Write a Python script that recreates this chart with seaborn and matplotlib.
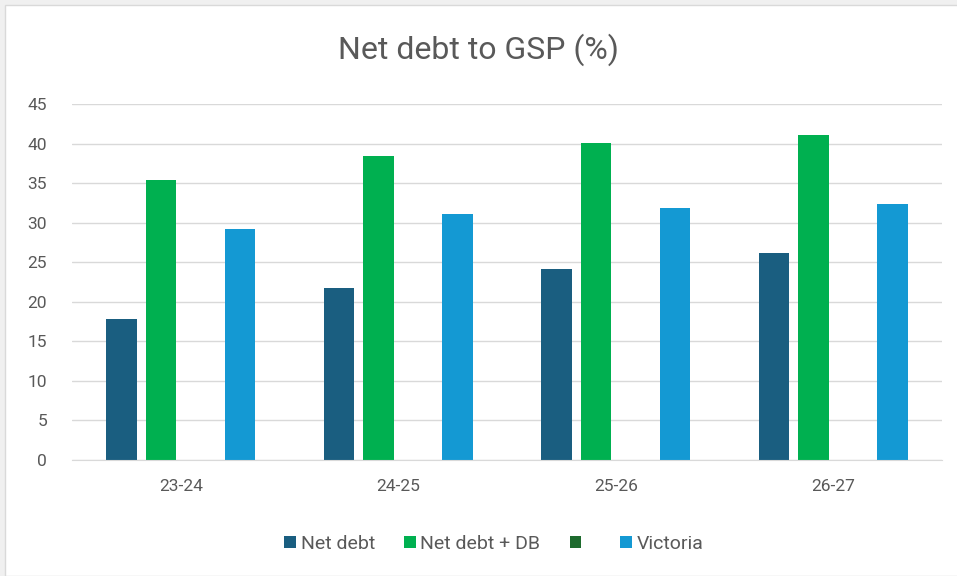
import numpy as np
import pandas as pd
import seaborn as sns
import matplotlib.pyplot as plt
from matplotlib.patches import Rectangle

# values
years = ["23-24", "24-25", "25-26", "26-27"]
net_debt = [17.8, 21.7, 24.1, 26.2]
net_debt_db = [35.4, 38.4, 40.1, 41.1]
blank = [np.nan, np.nan, np.nan, np.nan]   # series in legend with no bars
victoria = [29.2, 31.1, 31.9, 32.3]

series = ["Net debt", "Net debt + DB", " ", "Victoria"]
colours = {"Net debt": "#1a5e80", "Net debt + DB": "#00b050",
           " ": "#1e6b2e", "Victoria": "#1499d3"}

df = pd.DataFrame({
    "year": years * 4,
    "series": np.repeat(series, 4),
    "value": net_debt + net_debt_db + blank + victoria,
})

sns.set_style("white")
plt.rcParams["font.family"] = ["Roboto", "DejaVu Sans"]
grey = "#595959"

f = plt.figure(figsize=(9.57, 5.76), dpi=100, facecolor="#f0f0f0")
f.patches.append(Rectangle((5 / 957, 0), 1, 1 - 5 / 576, transform=f.transFigure,
                           facecolor="white", edgecolor="#d9d9d9", lw=1, zorder=-5))
a = f.add_axes([72 / 957, 1 - 460 / 576, 870 / 957, 356 / 576])
a.set_facecolor("none")

sns.barplot(x="year", y="value", hue="series", data=df, order=years,
            hue_order=series, palette=colours, width=0.726, gap=0.23,
            linewidth=0, saturation=1, ax=a)

a.set_ylim(0, 45)
a.set_yticks(range(0, 46, 5))
a.set_xlabel("")
a.set_ylabel("")
a.grid(axis="y", color="#d9d9d9", lw=1)
a.set_axisbelow(True)
for s in ["top", "right", "left"]:
    a.spines[s].set_visible(False)
a.spines["bottom"].set_color("#d9d9d9")
a.tick_params(axis="both", length=0, labelsize=12.5, labelcolor=grey)
a.tick_params(axis="x", pad=14)
a.tick_params(axis="y", pad=18)

f.text(0.5, 1 - 50 / 576, "Net debt to GSP (%)", ha="center", va="center",
       fontsize=23, color=grey)

sns.move_legend(a, "center", bbox_to_anchor=(0.516, 0.0556),
                bbox_transform=f.transFigure, ncol=4, frameon=False, title=None,
                fontsize=14, labelcolor=grey, handlelength=0.6, handleheight=0.6,
                handletextpad=0.25, columnspacing=1.5)

f.savefig("out.png", dpi=100, facecolor=f.get_facecolor())
